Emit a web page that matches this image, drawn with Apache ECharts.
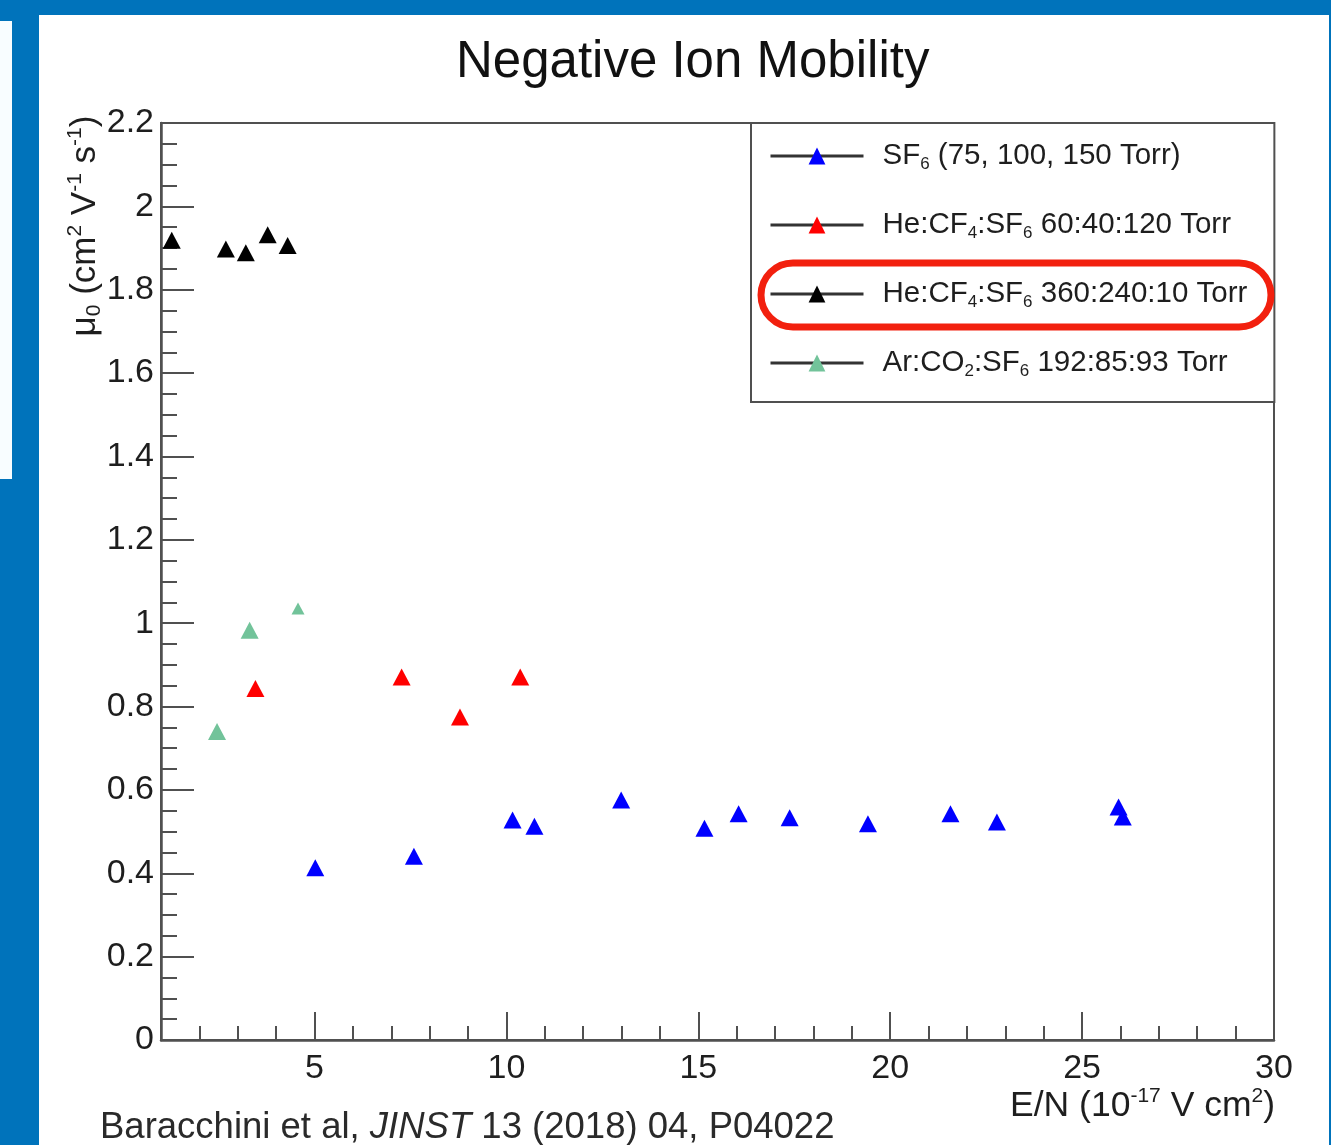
<!DOCTYPE html>
<html>
<head>
<meta charset="utf-8">
<title>Negative Ion Mobility</title>
<script src="https://cdn.jsdelivr.net/npm/echarts@6/dist/echarts.min.js"></script>
<style>
  html, body { margin: 0; padding: 0; width: 1331px; height: 1145px; overflow: hidden; background: #0073bb; }
  #panel { position: absolute; left: 39px; top: 15px; width: 1290px; height: 1130px; background: #ffffff; }
  #strip { position: absolute; left: 0; top: 21px; width: 12px; height: 458px; background: #f8fdff; }
  #chart { position: absolute; left: 0; top: 0; width: 1331px; height: 1145px; }
</style>
</head>
<body>
<div id="panel"></div>
<div id="strip"></div>
<div id="chart"></div>
<script>
// Reduced mobility mu0 versus reduced field E/N for four gas mixtures
const seriesNames = [
  'SF6 (75, 100, 150 Torr)',
  'He:CF4:SF6 60:40:120 Torr',
  'He:CF4:SF6 360:240:10 Torr',
  'Ar:CO2:SF6 192:85:93 Torr'
];

const sf6X = [5.02, 7.59, 10.16, 10.73, 12.99, 15.16, 16.05, 17.38, 19.42, 21.57, 22.78, 25.95, 26.06];
const sf6Y = [0.413, 0.441, 0.528, 0.513, 0.576, 0.508, 0.543, 0.533, 0.519, 0.543, 0.523, 0.559, 0.535];

const heLowSfX = [3.46, 7.27, 8.79, 10.36];
const heLowSfY = [0.843, 0.871, 0.775, 0.871];

const heHighX = [1.28, 2.69, 3.21, 3.78, 4.30];
const heHighY = [1.919, 1.898, 1.889, 1.932, 1.906];

const arCo2X = [2.46, 3.31, 4.57];
const arCo2Y = [0.740, 0.983, 1.035];

const xMajorTicks = [5, 10, 15, 20, 25, 30];
const yTickStep = 0.2;

const FONT = '"Liberation Sans", Arial, Helvetica, sans-serif';
const INK = '#1e1e1e';
const FRAME = '#505050';

function pairs(xs, ys) {
  return xs.map((x, i) => [x, ys[i]]);
}

// unlabelled minor ticks at every integer between the labelled ones
const xMinorTicks = [];
for (let v = 2; v < 30; v++) {
  if (xMajorTicks.indexOf(v) < 0) xMinorTicks.push(v);
}

const legendText = {
  'SF6 (75, 100, 150 Torr)': '{a|SF}{s|6}{t| (75, 100, 150 Torr)}',
  'He:CF4:SF6 60:40:120 Torr': '{a|He:CF}{s|4}{t|:SF}{s|6}{t| 60:40:120 Torr}',
  'He:CF4:SF6 360:240:10 Torr': '{a|He:CF}{s|4}{t|:SF}{s|6}{t| 360:240:10 Torr}',
  'Ar:CO2:SF6 192:85:93 Torr': '{a|Ar:CO}{s|2}{t|:SF}{s|6}{t| 192:85:93 Torr}'
};

const markerColors = ['#0000ff', '#ff0000', '#000000', '#72c39a'];
const seriesData = [
  pairs(sf6X, sf6Y),
  pairs(heLowSfX, heLowSfY),
  pairs(heHighX, heHighY),
  pairs(arCo2X, arCo2Y)
];

const series = seriesNames.map((name, k) => ({
  name: name,
  type: 'line',
  xAxisIndex: 0,
  yAxisIndex: 0,
  data: seriesData[k],
  symbol: 'triangle',
  symbolSize: (k === 3)
    ? function (v, p) { return p.dataIndex === 2 ? [13, 12] : [18, 17]; }
    : [18, 17],
  showSymbol: true,
  lineStyle: { opacity: 0, width: 0 },
  itemStyle: { color: markerColors[k] },
  emphasis: { disabled: true },
  z: 3
}));

const tickLine = { color: FRAME, width: 2 };

const chart = echarts.init(document.getElementById('chart'), null, { renderer: 'canvas' });
chart.setOption({
  animation: false,
  backgroundColor: 'transparent',
  title: {
    text: 'Negative Ion Mobility',
    left: 456,
    top: 37,
    padding: 0,
    textStyle: { fontFamily: FONT, fontSize: 51, fontWeight: 'normal', color: '#111', lineHeight: 51 }
  },
  grid: {
    left: 161, top: 123, width: 1113, height: 917,
    show: true, borderColor: FRAME, borderWidth: 2, backgroundColor: 'transparent'
  },
  xAxis: [
    {
      type: 'value', min: 1, max: 30, position: 'bottom',
      axisLine: { show: true, onZero: false, lineStyle: { color: FRAME, width: 2.5 } },
      axisTick: { show: true, inside: true, length: 28, customValues: xMajorTicks, lineStyle: tickLine },
      axisLabel: { show: true, customValues: xMajorTicks, margin: 12, fontFamily: FONT, fontSize: 34, color: INK },
      splitLine: { show: false }
    },
    {
      type: 'value', min: 1, max: 30, position: 'bottom',
      axisLine: { show: false },
      axisTick: { show: true, inside: true, length: 14, customValues: xMinorTicks, lineStyle: tickLine },
      axisLabel: { show: false },
      splitLine: { show: false }
    }
  ],
  yAxis: {
    type: 'value', min: 0, max: 2.2, interval: yTickStep,
    axisLine: { show: true, onZero: false, lineStyle: { color: FRAME, width: 2.5 } },
    axisTick: { show: true, inside: true, length: 33, lineStyle: tickLine },
    minorTick: { show: true, splitNumber: 4, length: 16, lineStyle: tickLine },
    axisLabel: { margin: 7, fontFamily: FONT, fontSize: 34, color: INK },
    splitLine: { show: false },
    minorSplitLine: { show: false }
  },
  legend: {
    orient: 'vertical',
    left: 751, top: 123,
    selectedMode: false,
    itemWidth: 93, itemHeight: 21, itemGap: 37,
    padding: [18, 27, 22, 18],
    borderColor: FRAME, borderWidth: 2,
    backgroundColor: '#ffffff',
    lineStyle: { color: '#333333', width: 3, opacity: 1 },
    data: seriesNames,
    formatter: function (name) { return legendText[name]; },
    textStyle: {
      fontFamily: FONT, fontSize: 29.5, color: INK,
      rich: {
        a: { fontFamily: FONT, fontSize: 29.5, lineHeight: 34, color: INK, padding: [0, 0, 0, 14] },
        t: { fontFamily: FONT, fontSize: 29.5, lineHeight: 34, color: INK },
        s: { fontFamily: FONT, fontSize: 17, lineHeight: 12, verticalAlign: 'bottom', color: INK }
      }
    },
    z: 2
  },
  graphic: [
    {
      type: 'text',
      x: 85, y: 226,
      rotation: Math.PI / 2,
      style: {
        text: '{m|\u03bc}{sub|0}{m| (cm}{sup|2}{m| V}{sup|-1}{m| s}{sup|-1}{m|)}',
        align: 'center', verticalAlign: 'middle',
        rich: {
          m: { fontFamily: FONT, fontSize: 35, lineHeight: 40, fill: INK },
          sup: { fontFamily: FONT, fontSize: 21, lineHeight: 14, verticalAlign: 'top', fill: INK },
          sub: { fontFamily: FONT, fontSize: 21, lineHeight: 14, verticalAlign: 'bottom', fill: INK }
        }
      }
    },
    {
      type: 'text',
      x: 1275, y: 1106,
      style: {
        text: '{m|E/N (10}{sup|-17}{m| V cm}{sup|2}{m|)}',
        align: 'right', verticalAlign: 'middle',
        rich: {
          m: { fontFamily: FONT, fontSize: 35.5, lineHeight: 40, fill: INK },
          sup: { fontFamily: FONT, fontSize: 21, lineHeight: 14, verticalAlign: 'top', fill: INK }
        }
      }
    },
    {
      type: 'text',
      x: 100, y: 1128,
      style: {
        text: '{r|Baracchini et al, }{i|JINST}{r| 13 (2018) 04, P04022}',
        align: 'left', verticalAlign: 'middle',
        rich: {
          r: { fontFamily: FONT, fontSize: 36.5, lineHeight: 40, fill: '#2a2a2a' },
          i: { fontFamily: FONT, fontSize: 36.5, lineHeight: 40, fontStyle: 'italic', fill: '#2a2a2a' }
        }
      }
    },
    {
      // hand-drawn highlight around the 360:240:10 Torr entry
      type: 'rect',
      z: 100,
      shape: { x: 761, y: 263, width: 510, height: 64, r: 32 },
      style: { fill: 'none', stroke: '#f2200e', lineWidth: 7 }
    }
  ],
  series: series
});
</script>
</body>
</html>
